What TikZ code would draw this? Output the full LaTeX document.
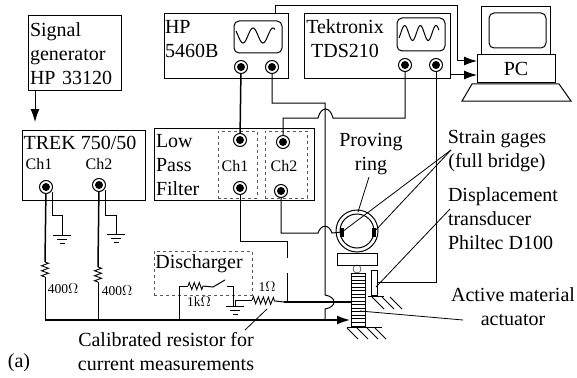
\documentclass[tikz,border=0pt]{standalone}
\usepackage{fontspec}
\setmainfont{Liberation Serif}
\usetikzlibrary{arrows.meta,decorations.pathmorphing}
\tikzset{
	every node/.style={font=\fontsize{20}{24}\selectfont, inner sep=0pt, outer sep=0pt},
	boxed/.style={draw, line width=1pt},
	dashbox/.style={draw=black!65, dashed, line width=0.7pt},
	screen/.style={draw, line width=1pt, rounded corners=5pt},
	jack/.style={circle, draw, line width=1pt, fill=white, minimum size=13pt,
		path picture={\fill[black] (path picture bounding box.center) circle (4pt);}},
	wire/.style={line width=1pt},
	heavy/.style={line width=1.5pt},
	leader/.style={line width=0.8pt},
	res/.style={line width=0.9pt, decorate, decoration={zigzag, segment length=5pt, amplitude=3.5pt}},
	tip/.style={-{Latex[length=13pt,width=9pt]}},
	chan/.style={font=\fontsize{16}{18}\selectfont},
	small/.style={font=\fontsize{13.5}{15}\selectfont}
}
\begin{document}
\begin{tikzpicture}[x=1pt, y=-1pt]
	\useasboundingbox (0,0) rectangle (577,377);

	% Instruments
	\node[boxed, minimum width=93pt, minimum height=75pt, text width=89pt, align=left] (siggen) at (74.5,53.5) {Signal\\generator\\HP 33120};
	\node[boxed, minimum width=123pt, minimum height=70pt, anchor=north west] (trek) at (22,130) {};
	\node (treklabel) at (80,143) {TREK 750/50};
	\node[chan] (trekchone) at (39,164) {Ch1};
	\node[chan] (trekchtwo) at (99,164) {Ch2};
	\node[boxed, minimum width=124pt, minimum height=65pt, anchor=north west] (hp) at (164,14) {};
	\node[anchor=west, align=left] (hplabel) at (165,39) {HP\\5460B};
	\node[screen, minimum width=48pt, minimum height=32pt, anchor=north west] (hpscreen) at (234,21) {};
	\node[boxed, minimum width=146pt, minimum height=65pt, anchor=north west] (tek) at (304,14) {};
	\node[align=center] (teklabel) at (345,39) {Tektronix\\TDS210};
	\node[screen, minimum width=48pt, minimum height=33pt, anchor=north west] (tekscreen) at (397,18) {};
	\draw[line width=1pt, smooth, domain=236:275, samples=40] plot (\x,{35.5-7.5*cos(18*(\x-253))});
	\draw[line width=1pt, smooth, domain=399:439, samples=40] plot (\x,{33-7.5*cos(23*(\x-436))});

	% PC
	\node[boxed, minimum width=69pt, minimum height=48pt, anchor=north west] (monitor) at (481,7) {};
	\node[screen, minimum width=57pt, minimum height=35pt, anchor=north west] (pcscreen) at (489,13) {};
	\node[boxed, fill=white, minimum width=78pt, minimum height=28pt, anchor=north west] (pc) at (477,55) {PC};
	\draw[boxed] (472,84) -- (559,84) -- (571,101) -- (462,101) -- cycle;

	% Filter
	\node[boxed, minimum width=160pt, minimum height=72pt, anchor=north west] (filter) at (154,128) {};
	\node[anchor=west, align=left] (filterlabel) at (156,165) {Low\\Pass\\Filter};
	\node[dashbox, minimum width=39pt, minimum height=67pt, anchor=north west] (lpone) at (218,131) {};
	\node[dashbox, minimum width=42pt, minimum height=67pt, anchor=north west] (lptwo) at (265,131) {};
	\node[chan] (lpchone) at (235,166) {Ch1};
	\node[chan] (lpchtwo) at (284,166) {Ch2};

	% Jacks
	\node[jack] (hpa) at (241,67) {};
	\node[jack] (hpb) at (272,67) {};
	\node[jack] (teka) at (405,65) {};
	\node[jack] (tekb) at (436,65) {};
	\node[jack] (lpa) at (240,140) {};
	\node[jack] (lpb) at (283,142) {};
	\node[jack] (lpc) at (240,188) {};
	\node[jack] (lpd) at (281,191) {};
	\node[jack] (treka) at (46,187) {};
	\node[jack] (trekb) at (99,185) {};

	% Specimen
	\node[circle, draw, line width=1pt, minimum size=42pt] (ring) at (357,231) {};
	\node[circle, draw, line width=1pt, minimum size=34pt] (ringin) at (357,231) {};
	\node[fill, minimum width=4pt, minimum height=9pt] (gagel) at (342,232) {};
	\node[fill, minimum width=4pt, minimum height=9pt] (gager) at (374,232) {};
	\node[boxed, minimum width=40pt, minimum height=12pt] (platen) at (357,259) {};
	\node[circle, draw, minimum size=8pt] (ball) at (357,269) {};
	\node[boxed, fill=white, minimum width=14pt, minimum height=53pt, anchor=north west] (act) at (351,273) {};
	\foreach \y in {3.5,7,...,51} {
		\draw[line width=0.6pt] ([yshift=-\y pt]act.north west) -- ([yshift=-\y pt]act.north east);
	}
	\node[boxed, fill=white, minimum width=6pt, minimum height=25pt, anchor=north west] (probe) at (371,270) {};
	\coordinate (actbasel) at (347,327);
	\coordinate (actbaser) at (382,327);
	\coordinate (probebasel) at (368,296);
	\coordinate (probebaser) at (384,296);
	\draw[wire] (actbasel) -- (actbaser);
	\draw[wire] (probebasel) -- (probebaser);
	\foreach \x in {347,357,367,375} {
		\draw[leader] (\x,328) -- +(11,11);
	}
	\foreach \x in {372,382,390} {
		\draw[leader] (\x,297) -- +(12,12);
	}

	% Grounds
	\coordinate (gnda) at (62,235);
	\coordinate (gndb) at (116,234);
	\coordinate (gndc) at (235,306);
	\foreach \g in {gnda,gndb,gndc} {
		\draw[wire] ([xshift=-9pt]\g) -- ([xshift=9pt]\g);
		\draw[wire] ([xshift=-5pt,yshift=-4pt]\g) -- ([xshift=5pt,yshift=-4pt]\g);
		\draw[wire] ([xshift=-2.5pt,yshift=-8pt]\g) -- ([xshift=2.5pt,yshift=-8pt]\g);
	}
	\coordinate (gndat) at (52,215);
	\coordinate (gndbt) at (105,215);
	\draw[wire] (52,192) -- (gndat) -| (gnda);
	\draw[wire] (105,190) -- (gndbt) -| (gndb);

	% Load resistors
	\coordinate (resatop) at (45,262);
	\coordinate (resabot) at (45,277);
	\coordinate (resbtop) at (98,267);
	\coordinate (resbbot) at (98,282);
	\coordinate (botleft) at (45,320);
	\coordinate (botmid) at (98,320);
	\coordinate (botdis) at (179,320);
	\coordinate (botend) at (350,320);
	\draw[heavy] (treka) -- (resatop);
	\draw[res] (resatop) -- (resabot);
	\draw[wire] (resabot) -- (botleft);
	\draw[heavy] (trekb) -- (resbtop);
	\draw[res] (resbtop) -- (resbbot);
	\draw[wire] (resbbot) -- (botmid);
	\draw[heavy, tip] (botleft) -- (botend);

	% Discharger
	\node[dashbox, minimum width=98pt, minimum height=44pt, anchor=north west] (dis) at (154,251) {};
	\node (dislabel) at (199,264) {Discharger};
	\node[small] (kohm) at (199,302) {1k$\Omega$};
	\coordinate (kleft) at (188,286);
	\coordinate (kright) at (203,286);
	\coordinate (swa) at (213,287);
	\coordinate (swb) at (225,280);
	\coordinate (swc) at (227,286);
	\draw[wire] (botdis) |- (kleft);
	\draw[res] (kleft) -- (kright);
	\draw[wire] (kright) -- (swa) -- (swb);
	\draw[wire] (swc) -| (233,306);

	% Calibrated resistor
	\node[small] (ohm) at (267,287) {1$\Omega$};
	\coordinate (shuntl) at (252,300);
	\coordinate (shuntr) at (275,301);
	\coordinate (actin) at (351,302);
	\coordinate (shuntout) at (284,302);
	\draw[wire] (gndc) |- (shuntl);
	\draw[res] (shuntl) -- (shuntr);
	\draw[wire] (shuntr) -- (shuntout);
	\draw[heavy] (shuntout) -- (actin);

	% Signal arrows and scope wires
	\coordinate (sigout) at (35,91);
	\coordinate (trekin) at (35,122);
	\draw[wire, tip] (sigout) -- (trekin);
	\draw[heavy] (hpa) -- (lpa);
	\coordinate (top) at (275,6);
	\coordinate (topr) at (457,6);
	\coordinate (pcina) at (477,61);
	\coordinate (pcinb) at (477,75);
	\coordinate (tekout) at (450,75);
	\draw[wire, tip] (275,14) -- (top) -- (topr) |- (pcina);
	\draw[wire, tip] (tekout) -- (pcinb);

	% Voltage sense line
	\coordinate (sensea) at (325,103);
	\coordinate (senseb) at (325,295);
	\coordinate (sensec) at (325,309);
	\coordinate (sensed) at (325,320);
	\draw[wire] (hpb) |- (sensea) -- (senseb) .. controls (337,297) and (337,307) .. (sensec) -- (sensed);

	% Tektronix to filter
	\coordinate (hoptopr) at (333,118);
	\coordinate (hoptopl) at (318,118);
	\coordinate (lptop) at (283,118);
	\draw[wire] (teka) |- (hoptopr) .. controls (330,106) and (321,106) .. (hoptopl) -- (lptop) -- (lpb);

	% Filter outputs
	\coordinate (gapa) at (287,241);
	\coordinate (gapb) at (287,258);
	\coordinate (gapc) at (287,273);
	\coordinate (gapd) at (287,302);
	\draw[wire] (lpc) |- (gapa) -- (gapb);
	\draw[wire] (gapc) -- (gapd);
	\coordinate (hopringl) at (318,233);
	\coordinate (hopringr) at (332,233);
	\draw[wire] (lpd) |- (hopringl) .. controls (321,224) and (329,224) .. (hopringr) -- (gagel);

	% Displacement signal
	\coordinate (probeout) at (378,282);
	\draw[wire] (tekb) |- (probeout);

	% Annotation
	\node (provinga) at (371,154) [align=center] {Proving\\ring};
	\node (strain) at (497,151) [align=center] {Strain gages\\(full bridge)};
	\node[anchor=west, align=left] (disp) at (448,219) {Displacement\\transducer\\Philtec D100};
	\node (amat) at (513,307) [align=center] {Active material\\actuator};
	\node (calib) at (166,352) [align=center] {Calibrated resistor for\\current measurements};
	\node (partlabel) at (19,363) {(a)};
	\coordinate (lprov) at (369,177);
	\coordinate (lstrain) at (451,150);
	\coordinate (ldisp) at (450,209);
	\coordinate (lprobe) at (376,287);
	\coordinate (lact) at (463,320);
	\coordinate (lactin) at (360,311);
	\coordinate (lcalib) at (245,330);
	\coordinate (lshunt) at (267,309);
	\coordinate (lringtop) at (358,212);
	\draw[leader] (lprov) -- (lringtop);
	\draw[leader] (lstrain) -- (gagel);
	\draw[leader] (lstrain) -- (gager);
	\draw[leader] (ldisp) -- (lprobe);
	\draw[leader] (lact) -- (lactin);
	\draw[leader] (lcalib) -- (lshunt);
	\node (ohmlow) at (63,289) [small] {400$\Omega$};
	\node (ohmhigh) at (117,291) [small] {400$\Omega$};
\end{tikzpicture}
\end{document}
